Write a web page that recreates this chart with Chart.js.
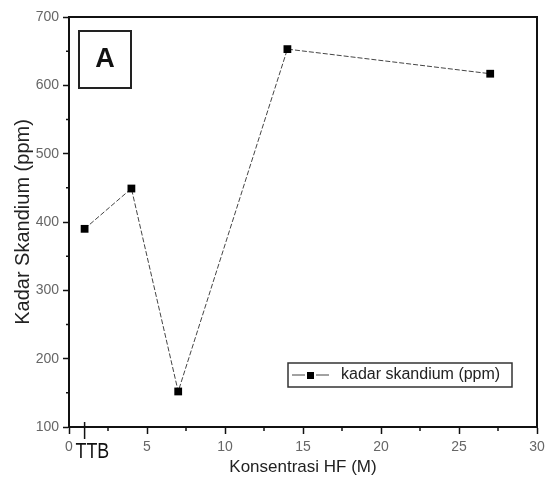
<!DOCTYPE html>
<html>
<head>
<meta charset="utf-8">
<script src="https://cdn.jsdelivr.net/npm/chart.js@4.4.0/dist/chart.umd.min.js"></script>
<style>
  body { margin: 0; background: #fff; }
  #wrap { width: 554px; height: 479px; position: relative; }
</style>
</head>
<body>
<div id="wrap"><canvas id="chart"></canvas></div>
<script>
// data
const konsentrasiHF = [1, 4, 7, 14, 27];
const kadarSkandium = [390, 449, 152, 653, 617];
const xMajorTicks = [0, 5, 10, 15, 20, 25, 30];
const xMinorTicks = [2.5, 7.5, 12.5, 17.5, 22.5, 27.5];
const yMinorTicks = [150, 250, 350, 450, 550, 650];
const seriesLabel = 'kadar skandium (ppm)';
const ttbLabel = 'TTB';
const panelLabel = 'A';

const FONT = "'Liberation Sans', Arial, sans-serif";

// top/right frame, minor ticks, TTB mark, panel label and legend box
const decorPlugin = {
    id: 'decor',
    afterDraw(chart) {
        const ctx = chart.ctx;
        const a = chart.chartArea;
        const xs = chart.scales.x, ys = chart.scales.y;
        ctx.save();
        ctx.strokeStyle = '#111';
        ctx.lineWidth = 2;
        ctx.beginPath();
        ctx.moveTo(a.left, a.top);
        ctx.lineTo(a.right, a.top);
        ctx.lineTo(a.right, a.bottom);
        ctx.stroke();

        // minor ticks
        ctx.lineWidth = 1.5;
        ctx.beginPath();
        xMinorTicks.forEach(v => {
            const px = xs.getPixelForValue(v);
            ctx.moveTo(px, a.bottom);
            ctx.lineTo(px, a.bottom + 4);
        });
        yMinorTicks.forEach(v => {
            const py = ys.getPixelForValue(v);
            ctx.moveTo(a.left, py);
            ctx.lineTo(a.left - 3, py);
        });
        // TTB tick crosses the axis
        const ttbX = xs.getPixelForValue(konsentrasiHF[0]);
        ctx.moveTo(ttbX, a.bottom - 5);
        ctx.lineTo(ttbX, a.bottom + 12);
        ctx.stroke();

        // TTB label, condensed
        ctx.fillStyle = '#111';
        ctx.font = '22px ' + FONT;
        ctx.textAlign = 'left';
        ctx.textBaseline = 'middle';
        ctx.save();
        ctx.translate(ttbX - 9, a.bottom + 25);
        ctx.scale(0.81, 1);
        ctx.fillText(ttbLabel, 0, 0);
        ctx.restore();

        // panel label box
        const bx = a.left + 10, by = a.top + 14;
        ctx.lineWidth = 2;
        ctx.strokeStyle = '#222';
        ctx.strokeRect(bx, by, 52, 57);
        ctx.font = 'bold 27px ' + FONT;
        ctx.textAlign = 'center';
        ctx.fillText(panelLabel, bx + 26, by + 29);

        // legend box
        const lx = a.right - 249, ly = a.bottom - 64;
        ctx.lineWidth = 1.5;
        ctx.strokeStyle = '#333';
        ctx.strokeRect(lx, ly, 224, 24);
        ctx.strokeStyle = '#444';
        ctx.lineWidth = 1;
        ctx.beginPath();
        ctx.moveTo(lx + 4, ly + 12); ctx.lineTo(lx + 17, ly + 12);
        ctx.moveTo(lx + 28, ly + 12); ctx.lineTo(lx + 41, ly + 12);
        ctx.stroke();
        ctx.fillStyle = '#000';
        ctx.fillRect(lx + 19, ly + 9, 7, 7);
        ctx.fillStyle = '#222';
        ctx.font = '16px ' + FONT;
        ctx.textAlign = 'left';
        ctx.fillText(seriesLabel, lx + 53, ly + 12);
        ctx.restore();
    }
};

const ctx = document.getElementById('chart').getContext('2d');
new Chart(ctx, {
    type: 'scatter',
    data: {
        datasets: [{
            label: seriesLabel,
            data: konsentrasiHF.map((x, i) => ({ x: x, y: kadarSkandium[i] })),
            showLine: true,
            borderColor: '#444',
            borderWidth: 1,
            borderDash: [5, 2],
            pointStyle: 'rect',
            pointRadius: 5.5,
            pointBackgroundColor: '#000',
            pointBorderColor: '#000',
            pointBorderWidth: 0
        }]
    },
    options: {
        responsive: true,
        maintainAspectRatio: false,
        animation: false,
        layout: { padding: { top: 17, right: 17, left: 0, bottom: 0 } },
        plugins: { legend: { display: false }, tooltip: { enabled: false } },
        scales: {
            x: {
                type: 'linear',
                min: 0, max: 30,
                afterBuildTicks: s => { s.ticks = xMajorTicks.map(v => ({ value: v })); },
                afterFit: s => { s.height = 52; },
                border: { display: true, color: '#111', width: 2 },
                grid: { drawOnChartArea: false, drawTicks: true, tickLength: 7, tickColor: '#111', tickWidth: 1.5 },
                ticks: { color: '#666', font: { family: FONT, size: 14 }, padding: 5, maxRotation: 0 },
                title: { display: true, text: 'Konsentrasi HF (M)', color: '#222', font: { family: FONT, size: 17 }, padding: { top: 0, bottom: 1 } }
            },
            y: {
                min: 100, max: 700,
                ticks: { stepSize: 100, color: '#666', font: { family: FONT, size: 14 }, padding: 4 },
                afterFit: s => { s.width = 69; },
                border: { display: true, color: '#111', width: 2 },
                grid: { drawOnChartArea: false, drawTicks: true, tickLength: 6, tickColor: '#111', tickWidth: 1.5 },
                title: { display: true, text: 'Kadar Skandium (ppm)', color: '#222', font: { family: FONT, size: 20 }, padding: { top: 11, bottom: 0 } }
            }
        }
    },
    plugins: [decorPlugin]
});
</script>
</body>
</html>
